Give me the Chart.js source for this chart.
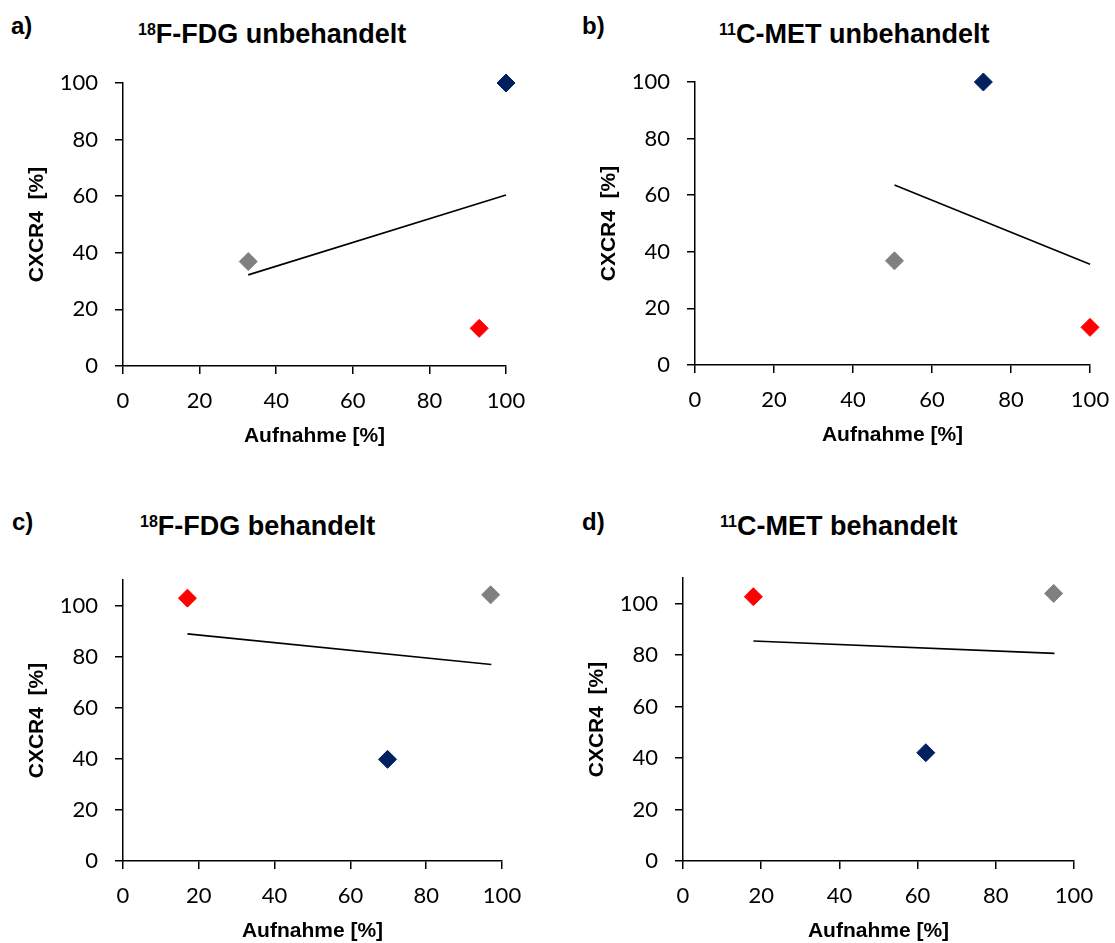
<!DOCTYPE html>
<html>
<head>
<meta charset="utf-8">
<title>CXCR4 vs Aufnahme</title>
<script src="https://cdn.jsdelivr.net/npm/chart.js@4"></script>
<style>
  html, body { margin: 0; padding: 0; background: #fff; overflow: hidden; width: 1115px; height: 943px; }
  .lbl, .ttl { position: absolute; font-family: "Liberation Sans", Arial, sans-serif; font-weight: bold; line-height: 1; color: #000; white-space: nowrap; }
  .lbl { font-size: 24px; }
  .ttl { font-size: 27px; }
  .ttl sup { font-size: 16px; vertical-align: 8px; line-height: 0; }
  canvas { position: absolute; }
</style>
</head>
<body>
<div class="lbl" style="left:11px; top:14px;">a)</div>
<div class="ttl" style="left:138px; top:21px;"><sup>18</sup>F-FDG unbehandelt</div>
<div class="lbl" style="left:582px; top:14px;">b)</div>
<div class="ttl" style="left:719px; top:21px;"><sup>11</sup>C-MET unbehandelt</div>
<div class="lbl" style="left:12px; top:510px;">c)</div>
<div class="ttl" style="left:140px; top:513px;"><sup>18</sup>F-FDG behandelt</div>
<div class="lbl" style="left:582px; top:510px;">d)</div>
<div class="ttl" style="left:720px; top:513px;"><sup>11</sup>C-MET behandelt</div>

<canvas id="chartA"></canvas>
<canvas id="chartB"></canvas>
<canvas id="chartC"></canvas>
<canvas id="chartD"></canvas>

<script>
// point order in every panel: blue, grey, red
const pointColors = ['#002060', '#808080', '#ff0000'];

// a) 18F-FDG unbehandelt
const fdgUntreatedX = [100, 32.7, 93.0];
const fdgUntreatedY = [100, 36.9, 13.3];
const fdgUntreatedTrendX = [32.7, 100];
const fdgUntreatedTrendY = [32.2, 60.4];

// b) 11C-MET unbehandelt
const metUntreatedX = [73.0, 50.5, 100];
const metUntreatedY = [100, 36.8, 13.3];
const metUntreatedTrendX = [50.5, 100];
const metUntreatedTrendY = [63.6, 35.6];

// c) 18F-FDG behandelt
const fdgTreatedX = [69.8, 97.0, 17.0];
const fdgTreatedY = [39.8, 104.2, 102.9];
const fdgTreatedTrendX = [17.0, 97.2];
const fdgTreatedTrendY = [88.9, 76.9];

// d) 11C-MET behandelt
const metTreatedX = [62.1, 94.8, 18.0];
const metTreatedY = [42.1, 104.0, 102.7];
const metTreatedTrendX = [18.0, 95.0];
const metTreatedTrendY = [85.5, 80.7];

const xLabel = 'Aufnahme [%]';
const yLabel = 'CXCR4  [%]';

// layout: y scale width, x scale height, padding round the plot
const Y_W = 110, X_H = 82, PAD_T = 20, PAD_R = 24;

function toPoints(xs, ys) {
    return xs.map((x, i) => ({x: x, y: ys[i]}));
}

// keep the plot area where we put it (no extra room for edge labels)
function noScalePadding(s) {
    s.paddingTop = 0;
    s.paddingBottom = 0;
    s.paddingLeft = 0;
    s.paddingRight = 0;
}

function makePanel(id, area, xs, ys, tx, ty, yMax) {
    const cv = document.getElementById(id);
    cv.width = Y_W + (area.right - area.left) + PAD_R;
    cv.height = PAD_T + (area.bottom - area.top) + X_H;
    cv.style.left = (area.left - Y_W) + 'px';
    cv.style.top = (area.top - PAD_T) + 'px';

    const axisGrid = {drawOnChartArea: false, drawTicks: true, tickLength: 8, color: '#000', lineWidth: 1.5};
    const axisBorder = {display: true, color: '#000', width: 1.5};
    const titleFont = {family: '"Liberation Sans", Arial, sans-serif', weight: 'bold', size: 21, lineHeight: 1};
    const tickFont = {family: 'Lato, "Open Sans", sans-serif', size: 22};

    return new Chart(cv.getContext('2d'), {
        type: 'scatter',
        data: {
            datasets: [{
                data: toPoints(xs, ys),
                pointStyle: 'rectRot',
                pointRadius: 9,
                pointHoverRadius: 9,
                backgroundColor: pointColors,
                borderColor: pointColors,
                borderWidth: 1,
                clip: false
            }, {
                data: toPoints(tx, ty),
                showLine: true,
                borderColor: '#000',
                borderWidth: 1.6,
                pointRadius: 0,
                pointHoverRadius: 0,
                clip: false
            }]
        },
        options: {
            responsive: false,
            animation: false,
            events: [],
            layout: {padding: {top: PAD_T, right: PAD_R, left: 0, bottom: 0}},
            plugins: {legend: {display: false}, tooltip: {enabled: false}},
            scales: {
                x: {
                    type: 'linear', min: 0, max: 100,
                    afterFit: s => { s.height = X_H; noScalePadding(s); },
                    grid: axisGrid,
                    border: axisBorder,
                    ticks: {stepSize: 20, padding: 14, color: '#000', font: tickFont},
                    title: {display: true, text: xLabel, color: '#000', font: titleFont, padding: {top: 0, bottom: 1}}
                },
                y: {
                    type: 'linear', min: 0, max: yMax,
                    afterFit: s => { s.width = Y_W; noScalePadding(s); },
                    grid: axisGrid,
                    border: axisBorder,
                    ticks: {stepSize: 20, includeBounds: false, padding: 17, color: '#000', font: tickFont},
                    title: {display: true, text: yLabel, color: '#000', font: titleFont, padding: {top: 13.5, bottom: 0}}
                }
            }
        }
    });
}

makePanel('chartA', {left: 123, right: 506, top: 83, bottom: 366},
    fdgUntreatedX, fdgUntreatedY, fdgUntreatedTrendX, fdgUntreatedTrendY, 100);
makePanel('chartB', {left: 695, right: 1090, top: 82, bottom: 365},
    metUntreatedX, metUntreatedY, metUntreatedTrendX, metUntreatedTrendY, 100);
makePanel('chartC', {left: 123, right: 502, top: 580, bottom: 861},
    fdgTreatedX, fdgTreatedY, fdgTreatedTrendX, fdgTreatedTrendY, 110);
makePanel('chartD', {left: 683, right: 1074, top: 578, bottom: 861},
    metTreatedX, metTreatedY, metTreatedTrendX, metTreatedTrendY, 110);
</script>
</body>
</html>
